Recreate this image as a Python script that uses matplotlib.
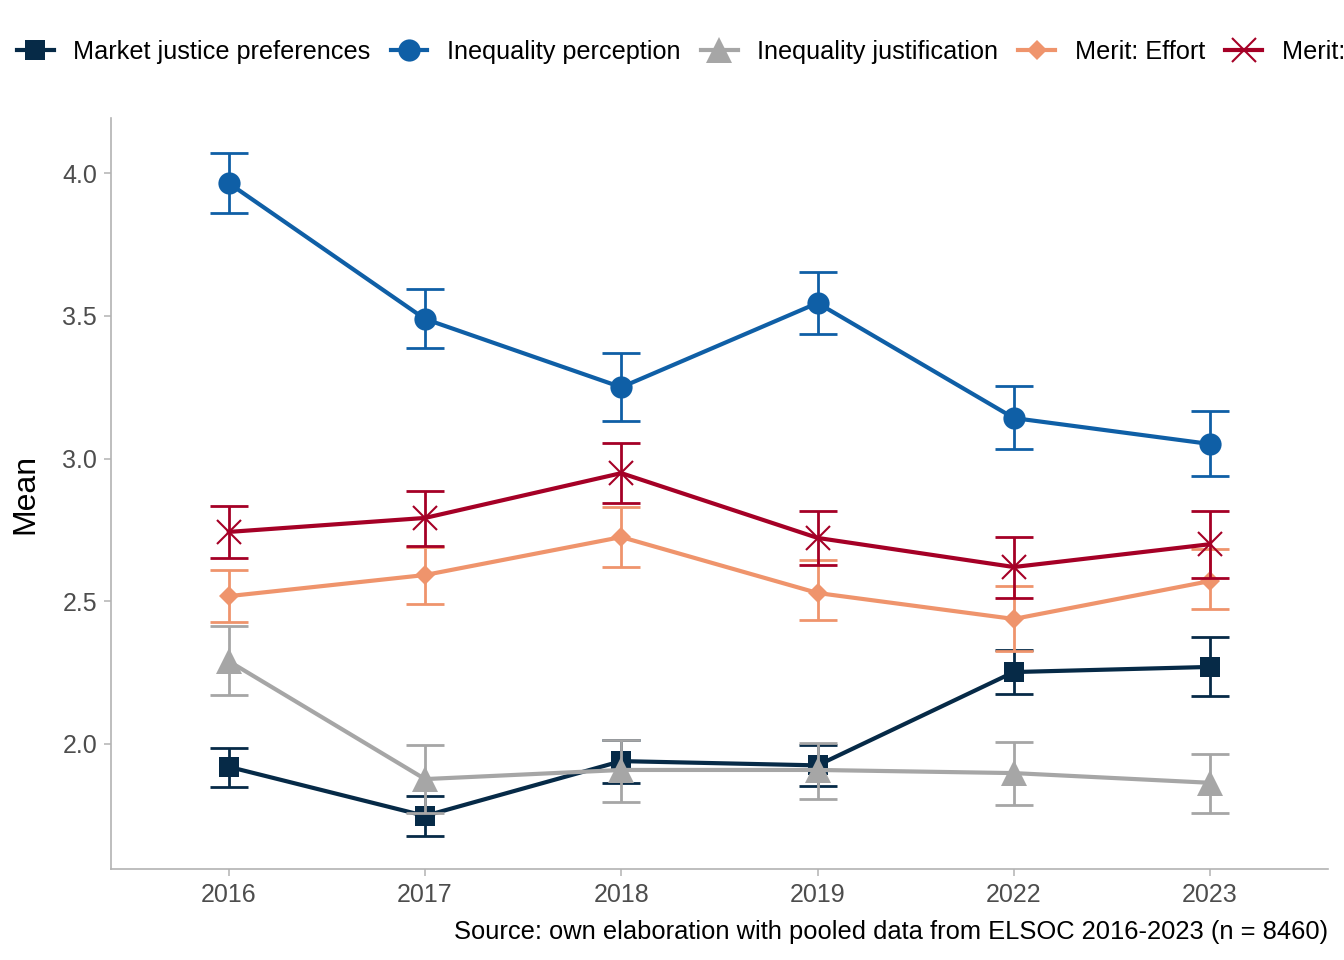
import matplotlib
matplotlib.use("Agg")
import matplotlib.pyplot as plt
import numpy as np

plt.rcParams['font.family'] = ['Liberation Sans', 'DejaVu Sans']

years = ["2016", "2017", "2018", "2019", "2022", "2023"]

# means and 95% CI bounds per series
market_mean = [1.92, 1.748, 1.94, 1.925, 2.252, 2.27]
market_lo = [1.85, 1.678, 1.864, 1.853, 2.175, 2.168]
market_hi = [1.986, 1.818, 2.013, 1.996, 2.329, 2.375]

perc_mean = [3.965, 3.489, 3.25, 3.545, 3.142, 3.051]
perc_lo = [3.86, 3.387, 3.131, 3.436, 3.033, 2.939]
perc_hi = [4.07, 3.594, 3.37, 3.653, 3.254, 3.166]

just_mean = [2.29, 1.877, 1.909, 1.909, 1.898, 1.864]
just_lo = [2.17, 1.758, 1.797, 1.807, 1.786, 1.758]
just_hi = [2.413, 1.996, 2.014, 2.003, 2.007, 1.965]

effort_mean = [2.518, 2.592, 2.725, 2.529, 2.438, 2.571]
effort_lo = [2.427, 2.49, 2.62, 2.434, 2.326, 2.473]
effort_hi = [2.61, 2.69, 2.83, 2.644, 2.553, 2.683]

talent_mean = [2.743, 2.792, 2.949, 2.722, 2.62, 2.70]
talent_lo = [2.651, 2.693, 2.844, 2.627, 2.511, 2.581]
talent_hi = [2.834, 2.886, 3.054, 2.816, 2.725, 2.816]

series = [
    ("Market justice preferences", market_mean, market_lo, market_hi, "#062a47", "s", 15),
    ("Inequality perception", perc_mean, perc_lo, perc_hi, "#0f5fa6", "o", 16),
    ("Inequality justification", just_mean, just_lo, just_hi, "#a6a6a6", "^", 19),
    ("Merit: Effort", effort_mean, effort_lo, effort_hi, "#ef946c", "D", 10.5),
    ("Merit: Talent", talent_mean, talent_lo, talent_hi, "#a50026", "x", 17),
]

fig = plt.figure(figsize=(13.44, 9.6), dpi=100)
ax = fig.add_axes([0.0826, 0.0948, 0.9054, 0.7822])
x = np.arange(len(years))

handles = []
for label, m, lo, hi, col, mk, ms in series:
    m = np.array(m)
    err = [m - np.array(lo), np.array(hi) - m]
    ax.errorbar(x, m, yerr=err, fmt="none", ecolor=col, elinewidth=2,
                capsize=14, capthick=2)
    mew = 1.5 if mk == "x" else 0
    h, = ax.plot(x, m, color=col, lw=3, marker=mk, markersize=ms,
                 markeredgewidth=mew, markeredgecolor=col, label=label)
    handles.append(h)

ax.set_xlim(-0.6, 5.6)
ax.set_ylim(1.562, 4.193)
ax.set_xticks(x)
ax.set_xticklabels(years)
ax.set_yticks([2.0, 2.5, 3.0, 3.5, 4.0])
ax.set_yticklabels(["2.0", "2.5", "3.0", "3.5", "4.0"])
ax.tick_params(axis="both", labelsize=18, colors="#b3b3b3", labelcolor="#4d4d4d",
               length=5, width=1.1, pad=5)
for s in ["top", "right"]:
    ax.spines[s].set_visible(False)
for s in ["left", "bottom"]:
    ax.spines[s].set_color("#b3b3b3")
    ax.spines[s].set_linewidth(1.2)
ax.set_ylabel("Mean", fontsize=23)
ax.yaxis.set_label_coords(-0.058, 0.5)

fig.legend(handles=handles, loc="center left", bbox_to_anchor=(0.0126, 0.946),
           ncol=5, frameon=False, fontsize=18.2, handlelength=1.45,
           handletextpad=0.78, columnspacing=0.8, borderpad=0, borderaxespad=0)

fig.text(0.988, 0.029, "Source: own elaboration with pooled data from ELSOC 2016-2023 (n = 8460)",
         ha="right", va="center", fontsize=18.4)

fig.savefig("out.png", dpi=100)
